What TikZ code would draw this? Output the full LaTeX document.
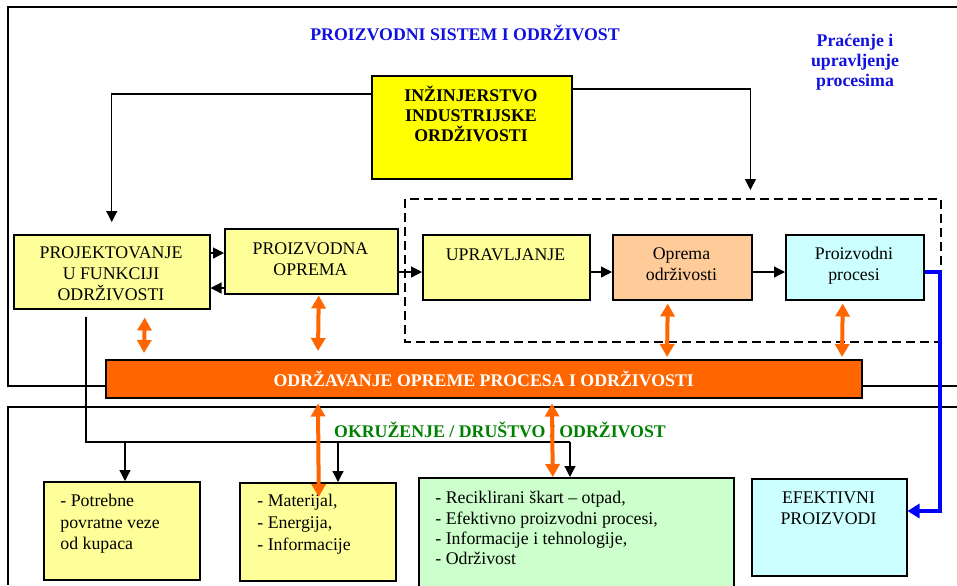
\documentclass[tikz,border=0pt]{standalone}
\usepackage{fontspec}
\setmainfont{Liberation Serif}
\usepackage{xcolor}
\usetikzlibrary{arrows.meta}

\definecolor{zuta}{HTML}{FFFF00}
\definecolor{svzuta}{HTML}{FFFF99}
\definecolor{breskva}{HTML}{FFCC99}
\definecolor{svplava}{HTML}{CCFFFF}
\definecolor{svzelena}{HTML}{CCFFCC}
\definecolor{narandz}{HTML}{FF6600}
\definecolor{zelena}{HTML}{008000}
\definecolor{plavaslova}{HTML}{1010E0}

\newcommand{\vel}{\fontsize{8.9}{10.5}\selectfont}

\begin{document}
\begin{tikzpicture}[x=0.5pt, y=-0.5pt,
    kutija/.style={draw, line width=0.75pt, anchor=north west, inner sep=0pt},
    tekst/.style={inner sep=0pt, align=center, anchor=north, font=\vel},
    lista/.style={inner sep=0pt, align=left, anchor=north west, font=\vel},
    strelica/.style={line width=0.6pt, -{Triangle[width=5.5pt,length=5.5pt]}},
    narandzasta/.style={draw=narandz, line width=2pt,
        {Triangle[width=7pt,length=6.5pt]}-{Triangle[width=7pt,length=6.5pt]}},
    plava/.style={draw=blue, line width=1.7pt, -{Triangle[width=7pt,length=6pt]}}]

            \useasboundingbox (0,0) rectangle (957,585);
            \clip (0,0) rectangle (957,585);

            % Okviri
            \draw[line width=0.75pt] (957,7) -- (8,7) -- (8,386) -- (957,386);
            \draw[line width=0.75pt] (957,407) -- (8,407) -- (8,585);

            % Naslovi
            \node[font=\vel\bfseries, text=plavaslova] (naslov) at (465,33) {PROIZVODNI SISTEM I ODRŽIVOST};
            \node[font=\fontsize{8.9}{10}\selectfont\bfseries, text=plavaslova, align=center] (pracenje) at (855,62) {Praćenje i\\upravljenje\\procesima};
            \node[font=\vel\bfseries, text=zelena] (okruzenje) at (500,430) {OKRUŽENJE / DRUŠTVO / ODRŽIVOST};

            % Gornji blokovi
            \node[kutija, fill=zuta, minimum width=100pt, minimum height=51.5pt] (inz) at (371,75) {};
            \node[tekst, font=\fontsize{8.9}{10}\selectfont\bfseries] (inztxt) at (471,86) {INŽINJERSTVO\\INDUSTRIJSKE\\ORDŽIVOSTI};

            \draw[line width=0.65pt, dash pattern=on 4.5pt off 2.5pt] (405,199) rectangle (941,342);
            \node[inner sep=0pt, minimum width=268pt, minimum height=71.5pt, anchor=north west] (okvir) at (405,199) {};

            \node[kutija, fill=svzuta, minimum width=98pt, minimum height=37pt] (proj) at (13,234) {};
            \node[tekst] (projtxt) at (111,246) {PROJEKTOVANJE\\U FUNKCIJI\\ODRŽIVOSTI};

            \node[kutija, fill=svzuta, minimum width=86.5pt, minimum height=32.5pt] (proizvodna) at (224,228) {};
            \node[tekst] (proizvodnatxt) at (310.5,242) {PROIZVODNA\\OPREMA};

            \node[kutija, fill=svzuta, minimum width=83.5pt, minimum height=32.5pt] (upr) at (422,234) {};
            \node[tekst] (uprtxt) at (505.5,248) {UPRAVLJANJE};

            \node[kutija, fill=breskva, minimum width=69.5pt, minimum height=32.5pt] (oprema) at (612,234) {};
            \node[tekst] (opirematxt) at (681.5,247) {Oprema\\održivosti};

            \node[kutija, fill=svplava, minimum width=69pt, minimum height=32.5pt] (proc) at (785,234) {};
            \node[tekst] (proctxt) at (854,247) {Proizvodni\\procesi};

            % Donji blokovi
            \node[kutija, fill=svzuta, minimum width=78pt, minimum height=49pt] (potr) at (43,481) {};
            \node[lista, font=\fontsize{8.9}{10.75}\selectfont] (potrtxt) at (60,494) {- Potrebne\\povratne veze\\od kupaca};

            \node[kutija, fill=svzuta, minimum width=78pt, minimum height=49pt] (mat) at (239,482) {};
            \node[lista, font=\fontsize{8.9}{11}\selectfont] (mattxt) at (257,494) {- Materijal,\\- Energija,\\- Informacije};

            \node[kutija, fill=svzelena, minimum width=157.5pt, minimum height=57pt] (zel) at (418,477) {};
            \node[lista, font=\fontsize{8.9}{10.15}\selectfont] (zeltxt) at (435,491) {- Reciklirani škart – otpad,\\- Efektivno proizvodni procesi,\\- Informacije i tehnologije,\\- Održivost};

            \node[kutija, fill=svplava, minimum width=77.5pt, minimum height=48.5pt] (efe) at (751,478) {};
            \node[tekst] (efetxt) at (828.5,491) {EFEKTIVNI\\PROIZVODI};

            % Veze
            \draw[strelica] ([yshift=-9.5pt]inz.north west) -| ([yshift=6pt]proj.north);
            \draw[strelica] ([yshift=-7pt]inz.north east) -| ([xshift=38.5pt,yshift=4.5pt]okvir.north);

            \draw[strelica] (proj.east |- 0,253) -- (proizvodna.west |- 0,253);
            \draw[strelica] (proizvodna.west |- 0,288) -- (proj.east |- 0,288);
            \draw[strelica] (proizvodna.east |- 0,272) -- (upr.west |- 0,272);
            \draw[strelica] (upr.east |- 0,272) -- (oprema.west |- 0,272);
            \draw[strelica] (oprema.east |- 0,272) -- (proc.west |- 0,272);

            \coordinate (p0) at ([xshift=36.5pt,yshift=-3.5pt]proj.south west);
            \coordinate (p1) at (125,442);
            \coordinate (m0) at (338,442);
            \coordinate (z0) at (570,442);
            \draw[line width=0.6pt] (p0) |- (z0);
            \draw[strelica] (p1) -- (p1 |- potr.north);
            \draw[strelica] (m0) -- (m0 |- mat.north);
            \draw[strelica] (z0) -- (z0 |- zel.north);

            % Odrzavanje
            \node[kutija, fill=narandz, minimum width=378pt, minimum height=19pt, text=white, font=\vel\bfseries] (odr) at (105,359) {ODRŽAVANJE OPREME PROCESA I ODRŽIVOSTI};

            \draw[narandzasta] ([xshift=16.5pt,yshift=-4pt]proj.south) -- ([xshift=19.5pt,yshift=3pt]odr.north west);
            \draw[narandzasta] ([xshift=3.75pt,yshift=-0.5pt]proizvodna.south) -- ([xshift=106.5pt,yshift=4pt]odr.north west);
            \draw[narandzasta] ([xshift=-7.25pt,yshift=-1.5pt]oprema.south) -- ([xshift=281pt,yshift=1pt]odr.north west);
            \draw[narandzasta] ([xshift=-6pt,yshift=-1.5pt]proc.south) -- ([xshift=368.5pt,yshift=1pt]odr.north west);
            \draw[narandzasta] ([xshift=106.5pt,yshift=-2.5pt]odr.south west) -- ([xshift=0.5pt,yshift=-7.5pt]mat.north);
            \draw[narandzasta] ([xshift=223.5pt,yshift=-2.5pt]odr.south west) -- ([xshift=-11.75pt]zel.north);

            % Efektivni proizvodi
            \draw[plava] (proc.east |- 0,272) -| (940,511) -- (efe.east |- 0,511);
        \end{tikzpicture}
\end{document}
